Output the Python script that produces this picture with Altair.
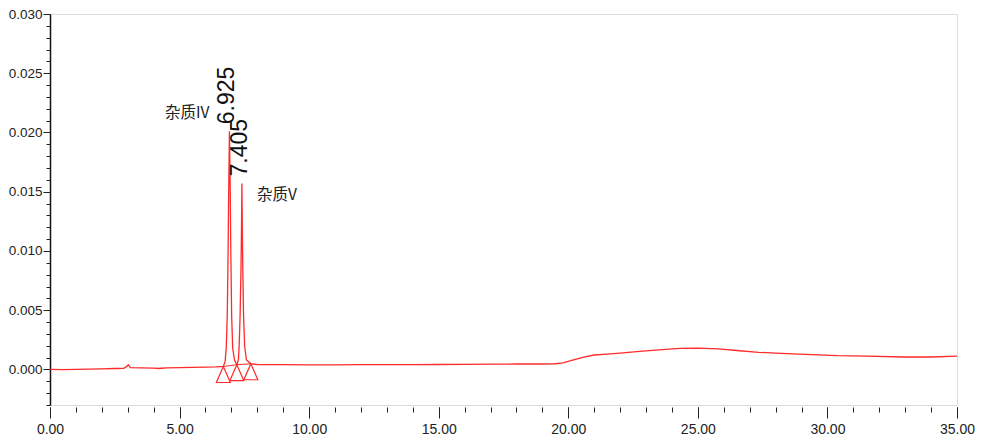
import altair as alt
import pandas as pd

# ---- data ----
rt = [0.0, 0.5, 1.0, 1.5, 2.0, 2.5, 2.85, 2.97, 3.02, 3.1, 3.5, 4.0, 4.2, 4.3, 4.5,
      5.0, 5.5, 6.0, 6.4,
      6.69, 6.76, 6.80, 6.84, 6.87, 6.895, 6.925, 6.955, 6.98, 7.01, 7.05, 7.12,
      7.21, 7.27, 7.30, 7.335, 7.37, 7.39, 7.405, 7.42, 7.44, 7.47, 7.51, 7.58,
      7.75, 8.0, 9.0, 10.0, 11.0, 12.0, 13.0, 14.0, 15.0, 16.0, 17.0, 18.0,
      19.0, 19.5, 19.8, 20.2, 20.6, 21.0, 21.5, 22.0, 22.75, 23.5, 24.3, 25.0,
      25.8, 26.5, 27.35, 28.0, 28.9, 30.4, 31.5, 33.0, 34.0, 35.0]
signal = [0.0000, -0.00002, 0.0000, 0.00002, 0.00005, 0.00008, 0.0001, 0.00028, 0.0004, 0.00015, 0.00013, 0.00012, 0.00008, 0.0001, 0.00013,
          0.00015, 0.00018, 0.0002, 0.00022,
          0.00025, 0.0007, 0.0018, 0.0045, 0.0095, 0.015, 0.0201, 0.015, 0.0095, 0.0045, 0.0018, 0.0008,
          0.0004, 0.0008, 0.002, 0.0045, 0.0085, 0.012, 0.0157, 0.012, 0.0085, 0.0045, 0.002, 0.0008,
          0.00048, 0.00042, 0.0004, 0.00038, 0.00038, 0.0004, 0.0004, 0.00041, 0.00042, 0.00043, 0.00045, 0.00046,
          0.00046, 0.00048, 0.00055, 0.0008, 0.00105, 0.00122, 0.0013, 0.00138, 0.00153, 0.00165, 0.00178, 0.0018,
          0.00173, 0.0016, 0.00145, 0.00137, 0.0013, 0.00117, 0.00113, 0.00105, 0.00105, 0.00113]

peak_rt = [6.925, 7.405]
peak_height = [0.0201, 0.0157]
peak_label = ["6.925", "7.405"]
peak_name = ["杂质IV", "杂质V"]

mark_rt = [6.69, 7.21, 7.75]
mark_level = [0.00025, 0.0004, 0.00048]

x_major = [0, 5, 10, 15, 20, 25, 30, 35]
x_minor = list(range(0, 36))
y_major = [0.0, 0.005, 0.010, 0.015, 0.020, 0.025, 0.030]
y_minor = [round(i * 0.001, 3) for i in range(-3, 31)]

# ---- tables ----
df_line = pd.DataFrame({"rt": rt, "signal": signal})
df_peaks = pd.DataFrame({"rt": peak_rt, "h": peak_height, "label": peak_label, "name": peak_name})
df_marks = pd.DataFrame({"rt": mark_rt, "level": mark_level})

RED = "#ff2a2a"
TICK_FONT = "Liberation Sans, Arial"
xs = alt.Scale(domain=[0, 35], nice=False, zero=False)
ys = alt.Scale(domain=[-0.003, 0.030], nice=False, zero=False)

ax_x_major = alt.Axis(values=x_major, format=".2f", orient="bottom", title=None, grid=False,
                      domain=False, offset=2, tickSize=11, tickColor="#222", labelColor="#222",
                      labelFont=TICK_FONT, labelFontSize=14, labelPadding=4, labelFlush=False)
ax_x_minor = alt.Axis(values=x_minor, labels=False, orient="bottom", title=None, grid=False,
                      domain=False, offset=2, tickSize=5, tickColor="#222")
ax_y_major = alt.Axis(values=y_major, format=".3f", orient="left", title=None, grid=False,
                      domain=True, domainColor="#111", domainWidth=1.5, tickSize=7,
                      tickColor="#222", labelColor="#222", labelFont=TICK_FONT,
                      labelFontSize=13.5, labelPadding=1, labelFlush=False)
ax_y_minor = alt.Axis(values=y_minor, labels=False, orient="left", title=None, grid=False,
                      domain=False, tickSize=4, tickColor="#222")

line = alt.Chart(df_line).mark_line(color=RED, strokeWidth=1.3, clip=True).encode(
    x=alt.X("rt:Q", scale=xs, axis=ax_x_major),
    y=alt.Y("signal:Q", scale=ys, axis=ax_y_major),
    order="rt:Q",
)

tri = alt.Chart(df_marks).mark_point(
    shape="M0,0L0.875,2L-0.875,2Z", size=256, filled=False, color=RED, strokeWidth=1.2, opacity=1
).encode(
    x=alt.X("rt:Q", scale=xs, axis=ax_x_minor),
    y=alt.Y("level:Q", scale=ys, axis=ax_y_minor),
)

base = alt.Chart(df_marks).mark_line(color=RED, strokeWidth=1.0).encode(
    x=alt.X("rt:Q", scale=xs, axis=None),
    y=alt.Y("level:Q", scale=ys, axis=None),
)

rt_text = alt.Chart(df_peaks).mark_text(
    angle=270, align="left", baseline="middle", dx=7, dy=-2,
    font="Liberation Sans", fontSize=23, color="#111"
).encode(
    x=alt.X("rt:Q", scale=xs, axis=None),
    y=alt.Y("h:Q", scale=ys, axis=None),
    text="label:N",
)

name1 = alt.Chart(df_peaks).transform_filter(alt.datum.rt < 7).mark_text(
    align="right", baseline="middle", dx=-20, dy=-18,
    font="Noto Sans CJK SC", fontSize=15.5, color="#222"
).encode(
    x=alt.X("rt:Q", scale=xs, axis=None),
    y=alt.Y("h:Q", scale=ys, axis=None),
    text="name:N",
)

name2 = alt.Chart(df_peaks).transform_filter(alt.datum.rt > 7).mark_text(
    align="left", baseline="middle", dx=15, dy=12,
    font="Noto Sans CJK SC", fontSize=15.5, color="#222"
).encode(
    x=alt.X("rt:Q", scale=xs, axis=None),
    y=alt.Y("h:Q", scale=ys, axis=None),
    text="name:N",
)

chart = alt.layer(line, tri, base, rt_text, name1, name2).resolve_axis(
    x="independent", y="independent"
).properties(
    width=907,
    height=391,
    autosize=alt.AutoSizeParams(type="none"),
    padding={"left": 42, "top": 6, "right": 18, "bottom": 31},
).configure_view(
    stroke="#4d4d4d", strokeWidth=2
).configure(background="white")

chart.save("out.html", embed_options={"renderer": "svg", "actions": False})
